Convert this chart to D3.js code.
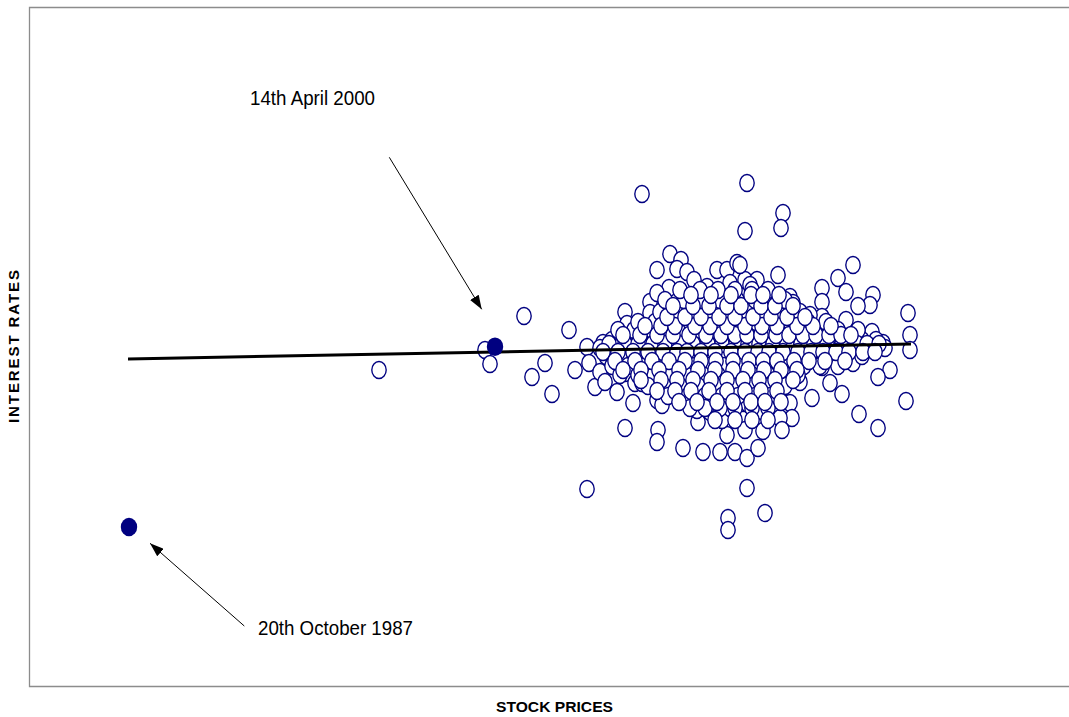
<!DOCTYPE html>
<html>
<head>
<meta charset="utf-8">
<script src="https://cdn.jsdelivr.net/npm/d3@7"></script>
<style>
  html, body { margin: 0; padding: 0; background: #fff; }
  svg { display: block; }
  text { font-family: "Liberation Sans", Arial, sans-serif; }
</style>
</head>
<body>
<svg id="chart" width="1069" height="717"></svg>
<script>
// Daily moves: [stock price change (index points), interest rate change (basis points)]
const dailyMoves = [
  [-178,-11],[-125,-1],[-122.5,-8],[-105.5,16],[-83,9],[-101.5,-14.5],[-95,-7.5],[-91.5,-23],
  [-80,-11],[-74,0.5],[-73,-7.5],[-70,-19.5],[-74,-70.5],[-46.5,77],[6,82.5],[5,58.5],
  [24,67.5],[23,60],[-32.5,47],[-27,44],[-39,39],[-29,39.5],[-24,38],[-33,30],[-20.5,34],
  [-42.5,23],[-55,18],[-54,12],[-66,2.5],[-63.5,-0.5],[-52.5,-1],[-44,2.5],[-37.5,12.5],
  [-42.5,17.5],[-32.5,15.5],[-27.5,20.5],[-39,27.5],[-18.5,27.5],[-14,30.5],[-9,39],[-4,39],
  [1,42.5],[-2.5,32.5],[-11.5,24],[-6,20.5],[-14,15.5],[-19,15.5],[-24,17.5],[-8.5,8],
  [1,10.5],[4,20.5],[5,34],[-32.5,9],[-44,9],[-21,9],[-27.5,5.5],[-17.5,-1],[-2.5,4],
  [4,5.5],[-57.5,5.5],[2.5,41.5],[21.5,36.5],[59,41.5],[51.5,35],[11,34],[7.5,31.5],
  [43.5,30],[55.5,28],[69,26.5],[67.5,21.5],[61.5,21],[43.5,23],[27.5,25.5],[29,22.5],
  [19,21.5],[11.5,21.5],[86.5,17.5],[55.5,14],[43.5,15.5],[37.5,16.5],[29,9],[22.5,15.5],
  [12.5,14],[6,10.5],[68.5,8],[87.5,6.5],[87.5,-1],[74,2.5],[70,2.5],[59,5],[54,5],
  [47.5,5.5],[39,3],[32.5,2.5],[24,4],[14,2.5],[6,2.5],[49,0.5],[59,-1],[41,-2],
  [-67.5,-12],[-59,-22],[-65,-17],[-55,-12.5],[-50,-17.5],[-46.5,-17.5],[-51,-27.5],
  [-40,-17.5],[-39,-26],[-36.5,-28.5],[-55,-40],[-38.5,-41],[-39,-47],[-26,-50],[-16,-52],
  [-7.5,-52],[0,-52],[6,-55],[-4,-43.5],[5,-41],[-6.5,-36],[-18.5,-37],[-19,-31],
  [-12.5,-32],[-2.5,-30],[4,-27.5],[-11.5,-27.5],[-13.5,-17.5],[-21,-20],[-27.5,-22.5],
  [-31,-11],[-22.5,-7.5],[-17.5,-2.5],[-9,-7.5],[-2.5,-11],[2.5,-7.5],[4,-17.5],[-6,-21],
  [-44,-6],[-52.5,-6],[-62.5,-3.5],[-34,-4.5],[6,-70],[-3.5,-85],[-3.5,-91],[77.5,-11],
  [71.5,-14.5],[85.5,-26.5],[62,-33],[71.5,-40],[53.5,-23],[47.5,-17.5],[43.5,-9.5],
  [38.5,-25],[59,-7.5],[51,-5],[27.5,-10],[32.5,-17],[22.5,-16],[16.5,-17],[6.5,-17],
  [12.5,-10],[6,-6],[21.5,-25],[27.5,-27.5],[28.5,-35],[22.5,-35],[23.5,-41],[13.5,-31.5],
  [6.5,-28],[14,-41.5],[11.5,-50],[15,-82.5],[22.5,-6],[36,-3.5],[19,-2.5],
  // dense core
  [-61.5,4],[-53.5,4],[-47,4],[-40,4],[-33.5,4],[-25.5,4],[-18.5,4],[-11.5,4],[-5,4],[1.5,4],
  [8.5,4],[15.5,4],[21.5,4],[28.5,4],[35.5,4],[42.5,4],[49.5,4],[56.5,4],[63.5,4],[70.5,4],
  [-67.5,0],[-60,0],[-52.5,0],[-45,0],[-37.5,0],[-30,0],[-22.5,0],[-15,0],[-7.5,0],[0,0],
  [7.5,0],[15,0],[22.5,0],[30,0],[37.5,0],[45,0],[52.5,0],[60,0],[67.5,0],[75,0],
  [-64.5,-4],[-57.5,-4],[-49.5,-4],[-42,-4],[-34.5,-4],[-27,-4],[-19.5,-4],[-12,-4],[-4.5,-4],
  [3,-4],[10.5,-4],[18,-4],[25.5,-4],[33,-4],[40.5,-4],[48,-4],[55.5,-4],[63.5,-4],
  [-58.5,9],[-50.5,9],[-41.5,9],[-34.5,9],[-26.5,9],[-17.5,9],[-10.5,9],[-2.5,9],[8.5,9],
  [17.5,9],[25.5,9],[33.5,9],[41.5,9],[51.5,9],[61.5,9],
  [-48.5,13],[-40,13],[-29.5,13],[-22.5,13],[-15,13],[-6.5,13],[2.5,13],[10.5,13],[18.5,13],
  [27.5,13],[36.5,13],[45.5,13],
  [-37.5,18],[-28.5,18],[-20,18],[-11.5,18],[-2.5,18],[6.5,18],[15,18],[23.5,18],[32.5,18],
  [-35,24],[-25.5,24],[-16.5,24],[-7.5,24],[1,24],[10,24],[17.5,24],[25,24],
  [-27.5,29],[-17.5,29],[-8.5,29],[0,29],[8.5,29],[16.5,29],
  [-61.5,-9],[-53.5,-9],[-45,-9],[-37.5,-9],[-29.5,-9],[-21.5,-9],[-13.5,-9],[-5.5,-9],
  [2.5,-9],[10.5,-9],[18.5,-9],[26.5,-9],[34.5,-9],[42.5,-9],[51.5,-9],
  [-57.5,-13.5],[-48.5,-13.5],[-40.5,-13.5],[-32.5,-13.5],[-24.5,-13.5],[-16,-13.5],
  [-8.5,-13.5],[0,-13.5],[8.5,-13.5],[16.5,-13.5],[25,-13.5],[31.5,-13.5],
  [-43.5,-19],[-35.5,-19],[-27.5,-19],[-18.5,-19],[-10,-19],[-1.5,-19],[7.5,-19],[15,-19],[25,-19],
  [-33.5,-24],[-23.5,-24],[-15,-24],[-6.5,-24],[1.5,-24],[10,-24],[17.5,-24],
  [-22.5,-30],[-15,-30],[-7.5,-30],[0,-30],[8.5,-30],[16.5,-30],
  [-10,-36],[0,-36],[8.5,-36],[16.5,-36],
  // overlapping core days between the rows above
  [-63,2],[-55,2],[-48.5,2],[-41,2],[-35,2],[-28,2],[-21,2],[-13.5,2],[-6.5,2],[0.5,2],[6.5,2],
  [12,2],[19,2],[26,2],[33,2],[39.5,2],[46,2],[53.5,2],[61,2],[66,2],[72,2],
  [-66,-2],[-58.5,-2],[-51,-2],[-43.5,-2],[-36,-2],[-29,-2],[-24,-2],[-17,-2],[-10,-2],[-2,-2],
  [5,-2],[11.5,-2],[17,-2],[24,-2],[31.5,-2],[38,-2],[44,-2],[50.5,-2],[57,-2],[64,-2],[70,-2],
  [-56,6.5],[-47.5,6.5],[-39,6.5],[-31,6.5],[-23,6.5],[-14.5,6.5],[-7,6.5],[0,6.5],[6,6.5],
  [13,6.5],[20.5,6.5],[27,6.5],[34,6.5],[40.5,6.5],[47,6.5],[53,6.5],[58,6.5],
  [-60,-6.5],[-50,-6.5],[-41.5,-6.5],[-33,-6.5],[-25,-6.5],[-17,-6.5],[-9.5,-6.5],[-1,-6.5],
  [7,-6.5],[14,-6.5],[21,-6.5],[29.5,-6.5],[37,-6.5],[45,-6.5],[55,-6.5],
  [-45,11],[-37,11],[-30,11],[-20,11],[-12.5,11],[-4,11],[5,11],[13.5,11],[21,11],[31,11],[39,11],[48,11],
  [-56,-11],[-47,-11],[-38,-11],[-28,-11],[-18.5,-11],[-10,-11],[-1,-11],[6.5,-11],[14.5,-11],[23,-11],[31,-11],
  [-34,15.5],[-25,15.5],[-17,15.5],[-8,15.5],[0,15.5],[9,15.5],[18,15.5],[26,15.5],[35,15.5],
  [-47,-16],[-37,-16],[-29,-16],[-21,-16],[-12,-16],[-4,-16],[4,-16],[12,-16],[20,-16],[29,-16],
  [-31,21],[-21,21],[-13,21],[-4,21],[3,21],[13,21],[20,21],[29,21],
  [-39,-21.5],[-30,-21.5],[-22,-21.5],[-13,-21.5],[-4,-21.5],[5,-21.5],[13,-21.5],[21,-21.5],
  [-22,26.5],[-12,26.5],[-2,26.5],[8,26.5],[14,26.5],[22,26.5],
  [-28,-27],[-19,-27],[-9,-27],[-1,-27],[8,-27],[15,-27],[23,-27]
];

// Highlighted days
const eventLabels = ["14th April 2000", "20th October 1987"];
const eventX = [-120, -303];
const eventY = [0.65, -89.5];

// Fitted regression line
const fitX = [-303.5, 88];
const fitY = [-5.5, 2];

const axisTitles = { x: "STOCK PRICES", y: "INTEREST RATES" };

const svg = d3.select("#chart");
const W = 1069, H = 717;
const plot = { left: 30, top: 8, right: 1069, bottom: 686 };

const x = d3.scaleLinear().domain([-352.5, 167]).range([plot.left, plot.right]);
const y = d3.scaleLinear().domain([-169, 170]).range([plot.bottom, plot.top]);

const navy = "#000080";

// frame
svg.append("path")
  .attr("d", `M${W + 5},${plot.top - 0.5} H${plot.left - 0.5} V${plot.bottom + 0.5} H${W + 5}`)
  .attr("fill", "none")
  .attr("stroke", "#8c8c8c")
  .attr("stroke-width", 1.3);

// open points
svg.append("g").selectAll("ellipse")
  .data(dailyMoves)
  .join("ellipse")
  .attr("cx", d => x(d[0]))
  .attr("cy", d => y(d[1]))
  .attr("rx", 7.2)
  .attr("ry", 8.5)
  .attr("fill", "#fff")
  .attr("stroke", navy)
  .attr("stroke-width", 1.35);

// regression line
svg.append("line")
  .attr("x1", x(fitX[0])).attr("y1", y(fitY[0]))
  .attr("x2", x(fitX[1])).attr("y2", y(fitY[1]))
  .attr("stroke", "#000")
  .attr("stroke-width", 3);

// highlighted points
svg.append("g").selectAll("ellipse")
  .data(eventX.map((v, i) => ({ x: v, y: eventY[i] })))
  .join("ellipse")
  .attr("cx", d => x(d.x))
  .attr("cy", d => y(d.y))
  .attr("rx", 8.2)
  .attr("ry", 9.3)
  .attr("fill", navy);

// arrow marker
svg.append("defs").append("marker")
  .attr("id", "arrow")
  .attr("markerUnits", "userSpaceOnUse")
  .attr("viewBox", "0 0 14 10")
  .attr("refX", 14).attr("refY", 5)
  .attr("markerWidth", 14).attr("markerHeight", 10)
  .attr("orient", "auto")
  .append("path")
  .attr("d", "M0,0 L14,5 L0,10 Z")
  .attr("fill", "#000");

// annotations: label position, arrow start, arrow tip
const annot = [
  { label: eventLabels[0], tx: 250, ty: 104.5, len: 125, x1: 389.3, y1: 157.3, x2: 481.7, y2: 309.3 },
  { label: eventLabels[1], tx: 258, ty: 634.5, len: 155, x1: 244.3, y1: 626, x2: 150, y2: 543.3 }
];

const ag = svg.append("g");
ag.selectAll("line")
  .data(annot)
  .join("line")
  .attr("x1", d => d.x1).attr("y1", d => d.y1)
  .attr("x2", d => d.x2).attr("y2", d => d.y2)
  .attr("stroke", "#000")
  .attr("stroke-width", 1)
  .attr("marker-end", "url(#arrow)");

ag.selectAll("text")
  .data(annot)
  .join("text")
  .attr("x", d => d.tx)
  .attr("y", d => d.ty)
  .attr("font-size", 20)
  .attr("textLength", d => d.len)
  .attr("lengthAdjust", "spacingAndGlyphs")
  .attr("fill", "#000")
  .text(d => d.label);

// axis titles
svg.append("text")
  .attr("x", 554.5)
  .attr("y", 711.7)
  .attr("text-anchor", "middle")
  .attr("font-size", 15)
  .attr("font-weight", "bold")
  .attr("textLength", 117)
  .attr("lengthAdjust", "spacingAndGlyphs")
  .text(axisTitles.x);

svg.append("text")
  .attr("transform", "translate(19.3,346.5) rotate(-90)")
  .attr("text-anchor", "middle")
  .attr("font-size", 15)
  .attr("font-weight", "bold")
  .attr("textLength", 153)
  .attr("lengthAdjust", "spacing")
  .text(axisTitles.y);
</script>
</body>
</html>
